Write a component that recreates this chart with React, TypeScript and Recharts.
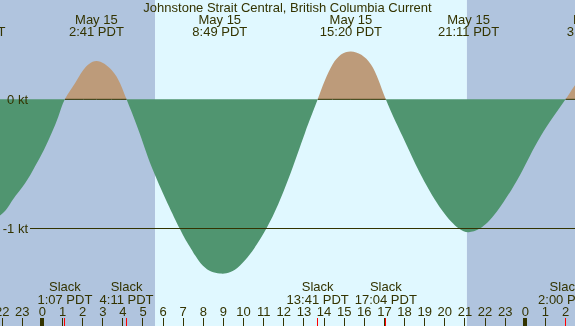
import { ComposedChart, Area, Line, XAxis, YAxis, ReferenceArea, ReferenceLine } from "recharts";

// hours since midnight May 15 (PDT) and current speed in knots
const hours = [-3.39, -2.11, -1.48, -0.86, -0.37, 0.08, 0.46, 0.79, 1.117, 1.62, 2.03, 2.683, 3.44, 3.86, 4.183, 4.85, 5.58, 6.82, 7.32, 7.98, 8.817, 9.81, 11.14, 12.22, 13.05, 13.683, 14.42, 15.333, 16.33, 17.067, 18.03, 18.86, 19.86, 20.68, 21.183, 21.76, 22.59, 23.76, 24.75, 26.0, 26.47, 27.43];
const knots = [-0.98, -0.9, -0.78, -0.65, -0.52, -0.39, -0.26, -0.135, 0, 0.124, 0.227, 0.297, 0.227, 0.124, 0, -0.27, -0.58, -1.0, -1.14, -1.29, -1.35, -1.29, -1.0, -0.62, -0.26, 0, 0.27, 0.37, 0.27, 0, -0.33, -0.6, -0.86, -1.0, -1.03, -1.0, -0.87, -0.58, -0.29, 0, 0.11, 0.3];

const hourTicks = [-2, -1, 0, 1, 2, 3, 4, 5, 6, 7, 8, 9, 10, 11, 12, 13, 14, 15, 16, 17, 18, 19, 20, 21, 22, 23, 24, 25, 26];

const slackTimes = [1.117, 4.183, 13.683, 17.067, 26.0];
const slackLabels = ["1:07 PDT", "4:11 PDT", "13:41 PDT", "17:04 PDT", "2:00 PDT"];

const peakTimes = [-3.38, 2.683, 8.817, 15.333, 21.183, 27.43];
const peakDates = ["May 14", "May 15", "May 15", "May 15", "May 15", "May 16"];
const peakLabels = ["20:37 PDT", "2:41 PDT", "8:49 PDT", "15:20 PDT", "21:11 PDT", "3:26 PDT"];

const sunrise = 5.6;
const sunset = 21.1;

const W = 575;
const H = 326;
const xMin = -2.107;
const xMax = 26.471;
const yMin = -1.757;
const yMax = 0.77;

const ink = "#333300";
const night = "#b0c4de";
const day = "#e0f8ff";
const floodColor = "#bd9b7a";
const ebbColor = "#509570";
const font = "'Liberation Sans', Arial, sans-serif";

const data = hours.map((h, i) => ({
  h,
  kt: knots[i],
  zero: knots[i] >= 0 ? 0 : null,
}));

const bands = [
  { from: xMin, to: sunrise, fill: night },
  { from: sunrise, to: sunset, fill: day },
  { from: sunset, to: xMax, fill: night },
];

const zeroFrac = yMax / (yMax - yMin);

function HourTick({ x, y, payload }: any) {
  const label = ((payload.value % 24) + 24) % 24;
  return (
    <g>
      <line x1={x} x2={x} y1={y - 8} y2={y} stroke={ink} strokeWidth={label === 0 ? 4 : 1} shapeRendering="crispEdges" />
      <text x={x} y={y - 10} textAnchor="middle" fill={ink} fontSize={13} fontFamily={font}>
        {label}
      </text>
    </g>
  );
}

// sits one pixel below the hour axis
function SlackTick({ x, y, payload }: any) {
  const b = y - 1;
  return (
    <g>
      <line x1={x} x2={x} y1={b - 8} y2={b} stroke="#ff0000" strokeWidth={1} shapeRendering="crispEdges" />
      <text x={x} y={b - 35} textAnchor="middle" fill={ink} fontSize={13} fontFamily={font}>
        Slack
      </text>
      <text x={x} y={b - 22.5} textAnchor="middle" fill={ink} fontSize={13} fontFamily={font}>
        {slackLabels[payload.index]}
      </text>
    </g>
  );
}

function PeakTick({ x, y, payload }: any) {
  return (
    <g>
      <text x={x} y={y + 24} textAnchor="middle" fill={ink} fontSize={13} fontFamily={font}>
        {peakDates[payload.index]}
      </text>
      <text x={x} y={y + 36} textAnchor="middle" fill={ink} fontSize={13} fontFamily={font}>
        {peakLabels[payload.index]}
      </text>
    </g>
  );
}

function KtTick({ x, y, payload }: any) {
  return (
    <g>
      {payload.value !== 0 && <rect x={0} y={y - 2} width={30} height={4} fill={night} />}
      <text x={x + 28} y={y + 4.5} textAnchor="end" fill={ink} fontSize={13} fontFamily={font}>
        {payload.value} kt
      </text>
    </g>
  );
}

export default function App() {
  return (
    <div style={{ position: "fixed", left: 0, top: 0, width: W, height: H }}>
      <ComposedChart width={W} height={H} data={data} margin={{ top: -1, right: 0, bottom: -2, left: -1 }}>
        <defs>
          <linearGradient id="tideFill" gradientUnits="userSpaceOnUse" x1={0} y1={0} x2={0} y2={H}>
            <stop offset={zeroFrac} stopColor={floodColor} />
            <stop offset={zeroFrac} stopColor={ebbColor} />
          </linearGradient>
        </defs>
        {bands.map((b, i) => (
          <ReferenceArea key={i} x1={b.from} x2={b.to} fill={b.fill} fillOpacity={1} stroke="none" ifOverflow="hidden" />
        ))}
        <Area
          dataKey="kt"
          type="natural"
          baseValue={0}
          stroke="none"
          fill="url(#tideFill)"
          fillOpacity={1}
          isAnimationActive={false}
        />
        <Line dataKey="zero" type="linear" stroke={ink} strokeWidth={1} dot={false} activeDot={false} isAnimationActive={false} />
        <ReferenceLine y={-1} stroke={ink} strokeWidth={1} shapeRendering="crispEdges" />
        <XAxis
          dataKey="h"
          type="number"
          domain={[xMin, xMax]}
          allowDataOverflow
          ticks={hourTicks}
          interval={0}
          height={1}
          tickSize={0}
          tickMargin={0}
          axisLine={false}
          tickLine={false}
          tick={<HourTick />}
        />
        <XAxis
          xAxisId="slack"
          dataKey="h"
          type="number"
          domain={[xMin, xMax]}
          allowDataOverflow
          ticks={slackTimes}
          interval={0}
          height={1}
          tickSize={0}
          tickMargin={0}
          axisLine={false}
          tickLine={false}
          tick={<SlackTick />}
        />
        <XAxis
          xAxisId="peak"
          orientation="top"
          dataKey="h"
          type="number"
          domain={[xMin, xMax]}
          allowDataOverflow
          ticks={peakTimes}
          interval={0}
          height={1}
          tickSize={0}
          tickMargin={0}
          axisLine={false}
          tickLine={false}
          tick={<PeakTick />}
        />
        <YAxis
          type="number"
          domain={[yMin, yMax]}
          allowDataOverflow
          ticks={[0, -1]}
          interval={0}
          width={1}
          tickSize={0}
          tickMargin={0}
          axisLine={false}
          tickLine={false}
          tick={<KtTick />}
        />
      </ComposedChart>
      <div
        style={{
          position: "absolute",
          left: 0,
          top: 1,
          width: W,
          textAlign: "center",
          fontFamily: font,
          fontSize: 13,
          lineHeight: "13px",
          color: ink,
        }}
      >
        Johnstone Strait Central, British Columbia Current
      </div>
    </div>
  );
}
